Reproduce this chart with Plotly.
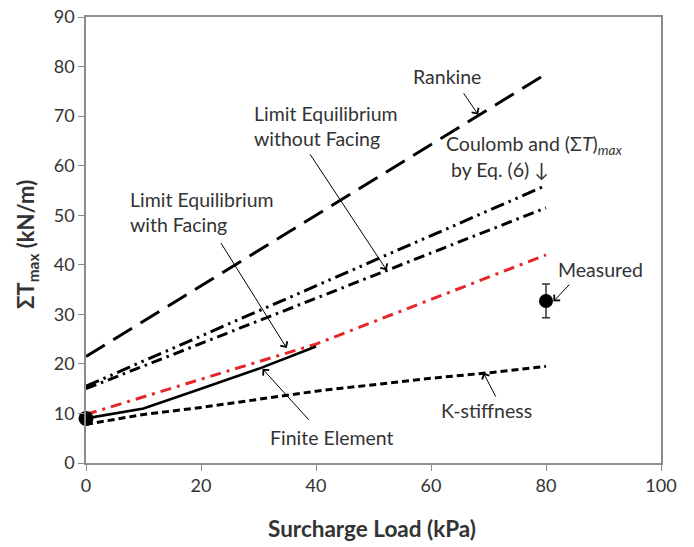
import plotly.graph_objects as go

# ---- data ----
rankine_x = [0, 80]
rankine_y = [21.5, 78.5]

coulomb_x = [0, 80]
coulomb_y = [15.5, 56.0]

le_nofacing_x = [0, 80]
le_nofacing_y = [15.0, 51.5]

le_facing_x = [0, 40, 80]
le_facing_y = [9.8, 24.0, 42.0]

fe_x = [0, 10, 20, 30, 40]
fe_y = [9.0, 11.0, 15.0, 19.0, 23.5]

kstiff_x = [0, 10, 20, 40, 60, 70, 80]
kstiff_y = [7.8, 9.8, 11.2, 14.5, 17.1, 18.2, 19.5]

init_x = [0]
init_y = [9.0]

meas_x = [80]
meas_y = [32.7]
meas_err = [3.4]

x_ticks = [0, 20, 40, 60, 80, 100]
y_ticks = [0, 10, 20, 30, 40, 50, 60, 70, 80, 90]

FONT = "Lato"
TXT = "#333333"

fig = go.Figure()

def line(x, y, color, width, dash):
    fig.add_trace(go.Scatter(x=x, y=y, mode="lines",
                             line=dict(color=color, width=width, dash=dash),
                             showlegend=False, hoverinfo="skip"))

line(rankine_x, rankine_y, "black", 3, "22px,10px")
line(coulomb_x, coulomb_y, "black", 3, "14px,5px,2.5px,5px,2.5px,5px")
line(le_nofacing_x, le_nofacing_y, "black", 3, "11px,5px,2.5px,5px")
line(le_facing_x, le_facing_y, "#e5252a", 3, "11px,6px,3px,6px")
line(fe_x, fe_y, "black", 2.6, "solid")
line(kstiff_x, kstiff_y, "black", 3, "7px,4px")

fig.add_trace(go.Scatter(x=init_x, y=init_y, mode="markers", cliponaxis=False,
                         marker=dict(color="black", size=15),
                         showlegend=False, hoverinfo="skip"))
fig.add_trace(go.Scatter(x=meas_x, y=meas_y, mode="markers", cliponaxis=False,
                         marker=dict(color="black", size=14),
                         error_y=dict(type="data", array=meas_err, color="#333333",
                                      thickness=1.5, width=4),
                         showlegend=False, hoverinfo="skip"))

tf = dict(family=FONT, size=19.5, color=TXT)

def note(text, x, y, xanchor="center", align="center"):
    fig.add_annotation(x=x, y=y, xref="x", yref="y", text=text, showarrow=False,
                       xanchor=xanchor, yanchor="middle", align=align, font=tf)

def arrow(tx, ty, hx, hy):
    fig.add_annotation(x=hx, y=hy, ax=tx, ay=ty, xref="x", yref="y",
                       axref="x", ayref="y", text="", showarrow=True,
                       arrowhead=4, arrowsize=1.6, arrowwidth=1, arrowcolor="black")

note("Rankine", 62.7, 77.9)
arrow(65.5, 74.9, 68.2, 70.3)

note("Limit Equilibrium<br>without Facing", 28.9, 68.0, xanchor="left", align="left")
arrow(38.8, 62.6, 52.3, 38.9)

note("Limit Equilibrium<br>with Facing", 7.25, 50.7, xanchor="left", align="left")
arrow(23.3, 44.7, 34.9, 23.2)

note("Coulomb and (Σ<i>T</i>)<sub><i>max</i></sub>", 62.2, 64.2, xanchor="left")
note("by Eq. (6) ↓", 63.2, 59.2, xanchor="left")

note("Measured", 89.4, 39.0)
arrow(84.3, 36.3, 81.3, 32.6)

note("K-stiffness", 69.7, 10.6)
arrow(71.4, 13.1, 69.1, 18.2)

note("Finite Element", 42.8, 5.1)
arrow(39.0, 8.4, 30.7, 19.0)

# axis titles
fig.add_annotation(xref="paper", yref="paper", x=0.497, y=0, yshift=-65,
                   text="<b>Surcharge Load (kPa)</b>", showarrow=False,
                   xanchor="center", yanchor="middle",
                   font=dict(family=FONT, size=22.5, color=TXT))
fig.add_annotation(xref="paper", yref="paper", x=0, y=0.5, xshift=-59, yshift=-5,
                   text="<b>ΣT<sub>max</sub> (kN/m)</b>", showarrow=False, textangle=-90,
                   xanchor="center", yanchor="middle",
                   font=dict(family=FONT, size=22, color=TXT))

axis_common = dict(showline=True, linecolor="#8c8c8c", linewidth=1.5, mirror=True,
                   ticks="outside", ticklen=6, tickcolor="#8c8c8c", tickwidth=1.2,
                   showgrid=False, zeroline=False, automargin=False,
                   ticklabeloverflow="allow",
                   tickfont=dict(family=FONT, size=18, color=TXT))

fig.update_xaxes(range=[0, 100], tickvals=x_ticks, **axis_common)
fig.update_yaxes(range=[0, 90], tickvals=y_ticks, **axis_common)

fig.update_layout(width=694, height=547, plot_bgcolor="white", paper_bgcolor="white",
                  margin=dict(l=86, r=33, t=17, b=84), showlegend=False)

fig.write_html("out.html", config={"displayModeBar": False},
               post_script="document.body.style.margin='0px';document.body.style.overflow='hidden';")
